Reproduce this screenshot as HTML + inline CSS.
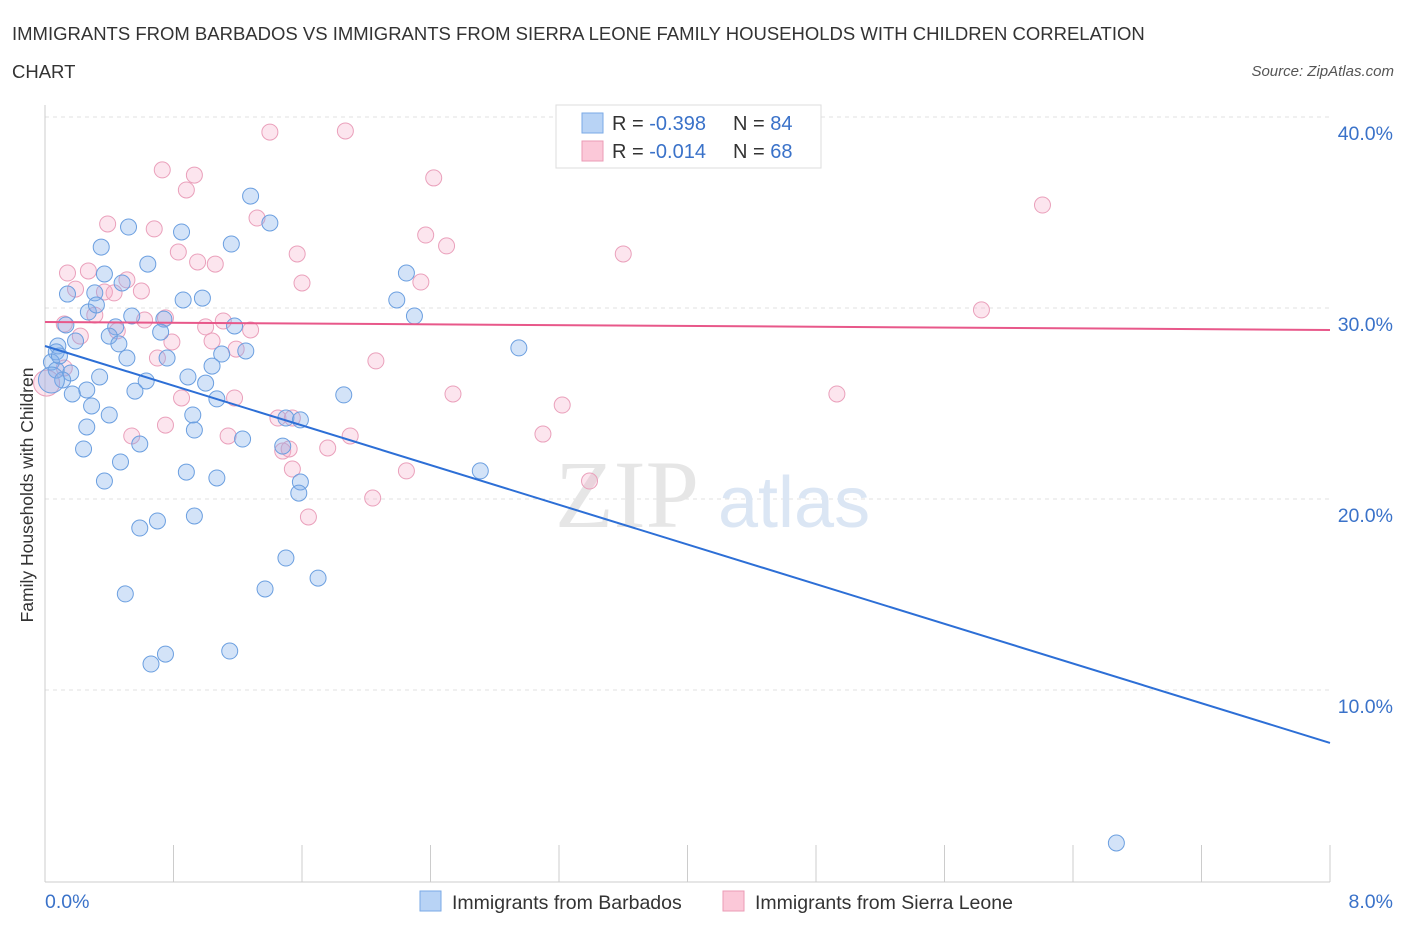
<!DOCTYPE html>
<html><head><meta charset="utf-8"><style>
body{margin:0;background:#fff;font-family:"Liberation Sans",sans-serif;}
svg text{font-family:"Liberation Sans",sans-serif;}
</style></head><body>
<svg width="1406" height="930" xmlns="http://www.w3.org/2000/svg">
<text x="12" y="40" font-size="18.5" fill="#333">IMMIGRANTS FROM BARBADOS VS IMMIGRANTS FROM SIERRA LEONE FAMILY HOUSEHOLDS WITH CHILDREN CORRELATION</text>
<text x="12" y="78" font-size="18.5" fill="#333">CHART</text>
<text x="1394" y="76" font-size="15" fill="#555" font-style="italic" text-anchor="end">Source: ZipAtlas.com</text>
<g id="grid"></g>
<g id="axes"></g>
<text x="555" y="527" font-size="96" fill="#e6e6e6" style="font-family:'Liberation Serif',serif">ZIP</text>
<text x="718" y="527" font-size="72" fill="#dbe6f4">atlas</text>
<g id="pts"></g>
<g id="lines"></g>
<text transform="translate(33,495) rotate(-90)" font-size="17.5" fill="#333" text-anchor="middle">Family Households with Children</text>
<g>
<rect x="556" y="105" width="265" height="63" fill="#fff" stroke="#ddd"/>
<rect x="582" y="113" width="21" height="20" fill="#b8d3f5" stroke="#7aaae6"/>
<rect x="582" y="141" width="21" height="20" fill="#fbc8d8" stroke="#eb9bb6"/>
<text x="612" y="130" font-size="20" fill="#333">R = <tspan fill="#3a72c9">-0.398</tspan></text>
<text x="733" y="130" font-size="20" fill="#333">N = <tspan fill="#3a72c9">84</tspan></text>
<text x="612" y="158" font-size="20" fill="#333">R = <tspan fill="#3a72c9">-0.014</tspan></text>
<text x="733" y="158" font-size="20" fill="#333">N = <tspan fill="#3a72c9">68</tspan></text>
</g>
<g>
<rect x="420" y="891" width="21" height="20" fill="#b8d3f5" stroke="#7aaae6"/>
<text x="452" y="909" font-size="19.5" fill="#333">Immigrants from Barbados</text>
<rect x="723" y="891" width="21" height="20" fill="#fbc8d8" stroke="#eb9bb6"/>
<text x="755" y="909" font-size="19.5" fill="#333">Immigrants from Sierra Leone</text>
</g>
</svg>
<script>
const blueX=[1.28,0.52,0.35,0.85,1.16,0.64,1.40,0.37,2.25,0.48,0.14,0.31,0.86,0.98,2.19,0.27,0.32,0.54,0.74,2.30,0.13,0.44,1.18,0.19,0.40,0.46,0.72,0.08,0.07,2.95,1.25,1.10,0.51,0.76,0.04,1.04,0.07,0.16,0.34,0.11,0.63,0.89,1.00,0.26,0.56,0.17,1.07,1.86,0.29,0.40,0.92,1.50,1.59,0.26,0.93,1.23,0.59,0.24,1.48,0.47,0.88,2.71,0.37,1.07,1.59,1.58,0.93,0.70,0.59,1.50,1.70,0.50,1.37,0.75,0.66,1.15,6.67,0.04,0.09];
const blueY=[35.86,34.24,33.19,33.98,33.35,32.30,34.45,31.78,31.83,31.31,30.73,30.79,30.42,30.52,30.42,29.79,30.16,29.58,29.42,29.58,29.11,29.01,29.06,28.27,28.53,28.12,28.74,28.01,27.70,27.91,27.75,27.59,27.38,27.38,27.17,26.96,26.75,26.60,26.39,26.23,26.18,26.39,26.07,25.71,25.65,25.50,25.24,25.45,24.87,24.40,24.40,24.24,24.14,23.77,23.61,23.14,22.88,22.62,22.77,21.94,21.41,21.47,20.94,21.10,20.89,20.31,19.11,18.85,18.48,16.91,15.86,15.03,15.29,11.88,11.36,12.04,1.99,26.23,27.49];
const pinkX=[1.40,1.87,0.73,0.93,0.88,2.42,6.21,0.39,1.32,0.68,2.37,2.50,0.83,1.57,0.95,1.06,3.60,0.14,0.27,0.51,1.60,2.34,0.37,0.60,0.19,0.43,5.83,0.31,0.62,0.75,1.11,0.12,1.00,1.28,0.45,0.22,0.79,1.04,1.19,0.70,2.06,0.12,2.54,4.93,0.85,1.18,3.22,0.75,1.45,1.54,0.54,1.14,1.90,3.10,1.48,1.52,1.76,1.54,2.25,3.39,2.04,1.64,3.81,0.01];
const pinkY=[39.21,39.27,37.23,36.96,36.18,36.81,35.39,34.40,34.71,34.14,33.82,33.25,32.93,32.83,32.41,32.30,32.83,31.83,31.94,31.47,31.31,31.36,30.84,30.89,30.99,30.79,29.90,29.63,29.37,29.48,29.32,29.16,29.01,28.85,28.80,28.53,28.22,28.27,27.85,27.38,27.23,26.86,25.50,25.50,25.29,25.29,24.92,23.87,24.24,24.24,23.30,23.30,23.30,23.40,22.51,22.62,22.67,21.57,21.47,20.94,20.05,19.06,37.91,26.07];
const blueTrend=[28.01,7.23];
const pinkTrend=[29.27,28.85];
const yTicks=[10,20,30,40];
const yTickLabels=["10.0%","20.0%","30.0%","40.0%"];
const xTickCount=10;
const xMin=0,xMax=8,yMin=0,yMax=40;
const NS="http://www.w3.org/2000/svg";
function sx(v){return 45+(v-xMin)/(xMax-xMin)*1285;}
function sy(v){return 881-(v-yMin)/10*191;}
function mk(t,a,p){const e=document.createElementNS(NS,t);for(const k in a)e.setAttribute(k,a[k]);p.appendChild(e);return e;}
const grid=document.getElementById('grid'),axes=document.getElementById('axes'),pts=document.getElementById('pts'),lines=document.getElementById('lines');
yTicks.forEach((v,i)=>{
 const l=mk('line',{x1:45,x2:1330,y1:sy(v),y2:sy(v),stroke:'#e2e2e2','stroke-dasharray':'4,4'},grid);
 
 
 const t=mk('text',{x:1393,y:sy(v)+23,'font-size':19.5,fill:'#3a72c9','text-anchor':'end'},axes);
 t.textContent=yTickLabels[i];
 
 
});
const ya=mk('line',{x1:45,x2:45,y1:105,y2:882,stroke:'#ccc'},axes);


const xa=mk('line',{x1:45,x2:1330,y1:882,y2:882,stroke:'#ccc'},axes);


for(let i=0;i<=xTickCount;i++){
 const x=sx(xMin+i*(xMax-xMin)/xTickCount);
 const tk=mk('line',{x1:x,x2:x,y1:845,y2:882,stroke:'#ccc'},axes);
 
 
}
const xl0=mk('text',{x:45,y:908,'font-size':19.5,fill:'#3a72c9'},axes);xl0.textContent='0.0%';


const xl1=mk('text',{x:1393,y:908,'font-size':19.5,fill:'#3a72c9','text-anchor':'end'},axes);xl1.textContent='8.0%';


function draw(X,Y,fill,stroke,name){
 X.forEach((x,i)=>{
  const big=(x<0.06&&Math.abs(Y[i]-26.1)<0.3);
  const c=mk('circle',{cx:sx(x),cy:sy(Y[i]),r:big?13:8,fill:fill,stroke:stroke,'stroke-width':1},pts);
  
  
 });
}
draw(pinkX,pinkY,'rgba(246,170,198,0.3)','#eaa0bb','point-sierra-leone');
draw(blueX,blueY,'rgba(130,175,235,0.35)','#6b9fe0','point-barbados');
const bl=mk('line',{x1:sx(0),y1:sy(blueTrend[0]),x2:sx(8),y2:sy(blueTrend[1]),stroke:'#2d6fd6','stroke-width':2},lines);


const pl=mk('line',{x1:sx(0),y1:sy(pinkTrend[0]),x2:sx(8),y2:sy(pinkTrend[1]),stroke:'#e8588a','stroke-width':2},lines);


</script>
</body></html>
